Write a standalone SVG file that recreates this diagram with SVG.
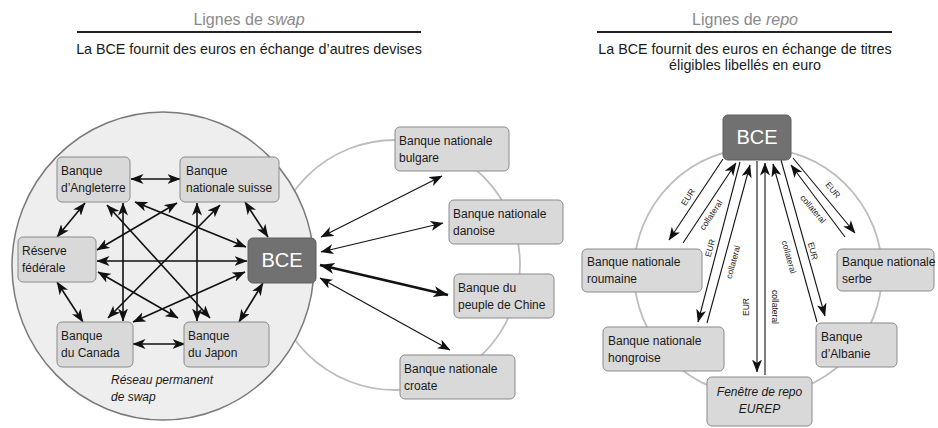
<svg xmlns="http://www.w3.org/2000/svg" width="938" height="428" viewBox="0 0 938 428">
<defs>
<style>
.t{font-family:"Liberation Sans",Arial,sans-serif;fill:#1a1a1a}
.title{font-size:16px;fill:#8a8a8a;text-anchor:middle}
.sub{font-size:14.3px;text-anchor:middle}
.lbl{font-size:12px}
.bcet{font-size:20px;fill:#fff;text-anchor:middle}
.box{fill:#d9d9d9;stroke:#8a8a8a;stroke-width:1}
.bce{fill:#717171;stroke:#5e5e5e;stroke-width:1}
.net{stroke:#111;stroke-width:1.6;fill:none;marker-start:url(#ah);marker-end:url(#ah)}
.thin{stroke:#111;stroke-width:1.1;fill:none;marker-start:url(#ah);marker-end:url(#ah)}
.thick{stroke:#111;stroke-width:2.6;fill:none;marker-start:url(#ahL);marker-end:url(#ahL)}
.rp{stroke:#111;stroke-width:1.1;fill:none;marker-end:url(#ah)}
.sm{font-size:8.5px;text-anchor:middle;dominant-baseline:central}
.ring{fill:none;stroke:#bdbdbd;stroke-width:1.8}
</style>
<marker id="ah" viewBox="0 0 13 10" refX="12.5" refY="5" markerWidth="13" markerHeight="10" markerUnits="userSpaceOnUse" orient="auto-start-reverse"><path d="M0,0 L13,5 L0,10 L3.5,5 Z" fill="#111"/></marker>
<marker id="ahL" viewBox="0 0 15 11" refX="14.5" refY="5.5" markerWidth="15" markerHeight="11" markerUnits="userSpaceOnUse" orient="auto-start-reverse"><path d="M0,0 L15,5.5 L0,11 L4,5.5 Z" fill="#111"/></marker>
</defs>

<g id="headings" class="t">
<text class="t title" x="249" y="25">Lignes de <tspan font-style="italic">swap</tspan></text>
<line x1="77" y1="32" x2="421" y2="32" stroke="#222" stroke-width="2"/>
<text class="t sub" x="249" y="54">La BCE fournit des euros en échange d’autres devises</text>
<text class="t title" x="745" y="25">Lignes de <tspan font-style="italic">repo</tspan></text>
<line x1="597" y1="32" x2="892" y2="32" stroke="#222" stroke-width="2"/>
<text class="t sub" x="745" y="54">La BCE fournit des euros en échange de titres</text>
<text class="t sub" x="745" y="70">éligibles libellés en euro</text>
</g>

<g id="backgrounds">
<circle class="ring" cx="395" cy="265" r="125"/>
<ellipse cx="163" cy="266" rx="151" ry="154" fill="#eeeeee" stroke="#7a7a7a" stroke-width="1.5"/>
<circle class="ring" cx="758" cy="272" r="124"/>
</g>

<g id="connectors">
<line class="net" x1="131" y1="179" x2="180" y2="179"/>
<line class="net" x1="85" y1="203" x2="57" y2="237"/>
<line class="net" x1="245" y1="202" x2="268" y2="237"/>
<line class="net" x1="97" y1="261" x2="247" y2="261"/>
<line class="net" x1="57" y1="282" x2="83" y2="322"/>
<line class="net" x1="263" y1="283" x2="239" y2="322"/>
<line class="net" x1="133" y1="344" x2="185" y2="344"/>
<line class="net" x1="107" y1="205" x2="210" y2="318"/>
<line class="net" x1="123" y1="203" x2="123" y2="321"/>
<line class="net" x1="135" y1="202" x2="246" y2="247"/>
<line class="net" x1="177" y1="203" x2="97" y2="250"/>
<line class="net" x1="197" y1="203" x2="197" y2="321"/>
<line class="net" x1="220" y1="205" x2="108" y2="318"/>
<line class="net" x1="98" y1="272" x2="178" y2="318"/>
<line class="net" x1="245" y1="272" x2="133" y2="322"/>

<line class="thin" x1="321" y1="237" x2="442" y2="176"/>
<line class="thin" x1="321" y1="252" x2="443" y2="223"/>
<line class="thick" x1="320" y1="265" x2="448" y2="295"/>
<line class="thin" x1="320" y1="278" x2="450" y2="350"/>

<line class="rp" x1="723" y1="159" x2="669" y2="240"/>
<line class="rp" x1="683" y1="243" x2="736" y2="163"/>
<line class="rp" x1="740" y1="162" x2="698" y2="322"/>
<line class="rp" x1="707" y1="323" x2="750" y2="165"/>
<line class="rp" x1="757" y1="161" x2="757" y2="372" stroke="#6a6a6a" stroke-width="2.2"/>
<line class="rp" x1="765" y1="375" x2="765" y2="163"/>
<line class="rp" x1="817" y1="322" x2="773" y2="164"/>
<line class="rp" x1="781" y1="160" x2="825" y2="316"/>
<line class="rp" x1="845" y1="237" x2="791" y2="165"/>
<line class="rp" x1="793" y1="158" x2="855" y2="233"/>

<g class="t">
<text class="sm" transform="translate(688,197) rotate(-56.5)">EUR</text>
<text class="sm" transform="translate(711,215) rotate(-56.5)">collateral</text>
<text class="sm" transform="translate(710,248) rotate(-75)">EUR</text>
<text class="sm" transform="translate(733,262) rotate(-75)">collateral</text>
<text class="sm" transform="translate(746,307) rotate(-90)">EUR</text>
<text class="sm" transform="translate(775,307) rotate(90)">collateral</text>
<text class="sm" transform="translate(789,257) rotate(74.5)">collateral</text>
<text class="sm" transform="translate(813,251) rotate(74.5)">EUR</text>
<text class="sm" transform="translate(813,209) rotate(50)">collateral</text>
<text class="sm" transform="translate(833,190) rotate(50)">EUR</text>
</g>
</g>

<g id="swap-angleterre"><rect class="box" x="57" y="157" width="73" height="45" rx="5"/><text class="t lbl" x="61" y="175">Banque</text><text class="t lbl" x="61" y="192">d’Angleterre</text></g>
<g id="swap-suisse"><rect class="box" x="180" y="157" width="99" height="45" rx="5"/><text class="t lbl" x="186" y="175">Banque</text><text class="t lbl" x="186" y="192">nationale suisse</text></g>
<g id="swap-reserve"><rect class="box" x="18" y="237" width="78" height="45" rx="5"/><text class="t lbl" x="22" y="255">Réserve</text><text class="t lbl" x="22" y="272">fédérale</text></g>
<g id="swap-bce"><rect class="bce" x="248" y="238" width="68" height="45" rx="5"/><text class="t bcet" x="282" y="267">BCE</text></g>
<g id="swap-canada"><rect class="box" x="57" y="322" width="76" height="45" rx="5"/><text class="t lbl" x="61" y="340">Banque</text><text class="t lbl" x="61" y="357">du Canada</text></g>
<g id="swap-japon"><rect class="box" x="184" y="322" width="85" height="45" rx="5"/><text class="t lbl" x="188" y="340">Banque</text><text class="t lbl" x="188" y="357">du Japon</text></g>
<g id="swap-label"><text class="t lbl" x="111" y="384" font-style="italic">Réseau permanent</text><text class="t lbl" x="111" y="401" font-style="italic">de swap</text></g>

<g id="swap-bulgare"><rect class="box" x="395" y="127" width="114" height="44" rx="5"/><text class="t lbl" x="399" y="145">Banque nationale</text><text class="t lbl" x="399" y="162">bulgare</text></g>
<g id="swap-danoise"><rect class="box" x="449" y="200" width="114" height="44" rx="5"/><text class="t lbl" x="453" y="218">Banque nationale</text><text class="t lbl" x="453" y="235">danoise</text></g>
<g id="swap-chine"><rect class="box" x="454" y="274" width="100" height="44" rx="5"/><text class="t lbl" x="458" y="292">Banque du</text><text class="t lbl" x="458" y="309">peuple de Chine</text></g>
<g id="swap-croate"><rect class="box" x="400" y="355" width="115" height="44" rx="5"/><text class="t lbl" x="404" y="373">Banque nationale</text><text class="t lbl" x="404" y="390">croate</text></g>

<g id="repo-bce"><rect class="bce" x="723" y="115" width="68" height="45" rx="5"/><text class="t bcet" x="757" y="144">BCE</text></g>
<g id="repo-roumaine"><rect class="box" x="582" y="249" width="120" height="43" rx="5"/><text class="t lbl" x="587" y="266">Banque nationale</text><text class="t lbl" x="587" y="283">roumaine</text></g>
<g id="repo-serbe"><rect class="box" x="837" y="249" width="97" height="42" rx="5"/><text class="t lbl" x="842" y="266">Banque nationale</text><text class="t lbl" x="842" y="283">serbe</text></g>
<g id="repo-hongroise"><rect class="box" x="603" y="327" width="121" height="44" rx="5"/><text class="t lbl" x="608" y="345">Banque nationale</text><text class="t lbl" x="608" y="362">hongroise</text></g>
<g id="repo-albanie"><rect class="box" x="816" y="323" width="81" height="44" rx="5"/><text class="t lbl" x="821" y="341">Banque</text><text class="t lbl" x="821" y="358">d’Albanie</text></g>
<g id="repo-eurep"><rect class="box" x="707" y="377" width="105" height="49" rx="5"/><text class="t lbl" x="759.5" y="396" text-anchor="middle" font-style="italic">Fenêtre de repo</text><text class="t lbl" x="759.5" y="413" text-anchor="middle" font-style="italic">EUREP</text></g>
</svg>
